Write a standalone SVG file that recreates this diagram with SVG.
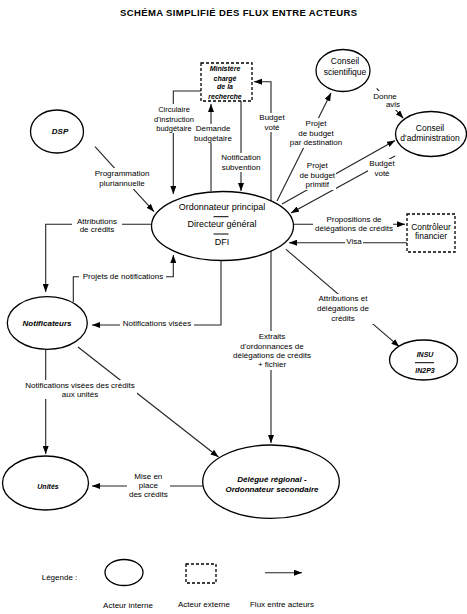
<svg xmlns="http://www.w3.org/2000/svg" width="467" height="614" viewBox="0 0 467 614">
<defs>
<marker id="ah" viewBox="0 0 8 6" refX="8" refY="3" markerWidth="8" markerHeight="6" markerUnits="userSpaceOnUse" orient="auto"><path d="M0,0 L8,3 L0,6 z" fill="#000"/></marker>
</defs>
<style>
text{font-family:"Liberation Sans",Arial,sans-serif;fill:#000}
.t{font-size:9.5px;font-weight:bold}
.lb{font-size:8px;text-anchor:middle}
.bg{fill:#fff;stroke:none}
.node{fill:#fff;stroke:#000;stroke-width:1.3}
.ext{fill:#fff;stroke:#000;stroke-width:1.3;stroke-dasharray:3,2}
.nm{font-size:8.5px;text-anchor:middle}
.it{font-size:8px;font-style:italic;font-weight:bold;text-anchor:middle}
.c{fill:none;stroke:#222;stroke-width:1.1}
.a{marker-end:url(#ah)}
.sep{stroke:#000;stroke-width:1}
</style>
<rect width="467" height="614" fill="#fff"/>
<text class="t" x="120" y="16" textLength="237" lengthAdjust="spacing">SCHÉMA SIMPLIFIÉ DES FLUX ENTRE ACTEURS</text>

<g id="connectors">
<path class="c a" d="M201,91 H173.3 V194"/>
<path class="c a" d="M211,191 V104"/>
<path class="c a" d="M241,101 V191"/>
<path class="c a" d="M271,201 V81.7 H254"/>
<path class="c a" d="M95,146.7 L154,211.7"/>
<path class="c a" d="M152,224.3 H45.7 V292"/>
<path class="c a" d="M73.3,302 V276.7 H173.3 V255"/>
<path class="c a" d="M221,260 V325 H92"/>
<path class="c a" d="M45.7,350 V454"/>
<path class="c a" d="M78,347 L218.5,457"/>
<path class="c a" d="M202.7,486 H92"/>
<path class="c a" d="M271,250 V443"/>
<path class="c a" d="M277,201 L331,93"/>
<path class="c a" d="M282,204 L395,140.5"/>
<path class="c a" d="M395,156 L291,213"/>
<path class="c a" d="M376.7,88.3 L403.3,118.3"/>
<path class="c a" d="M292,224.3 H405"/>
<path class="c a" d="M407,242.7 H289"/>
<path class="c a" d="M286,249.3 L399.3,346.7"/>
</g>

<g id="label-backgrounds">
<rect class="bg" x="153" y="104" width="40" height="29"/>
<rect class="bg" x="194" y="124" width="38" height="19"/>
<rect class="bg" x="221" y="153" width="41" height="19"/>
<rect class="bg" x="260" y="113" width="24" height="19"/>
<rect class="bg" x="96" y="168" width="52" height="21"/>
<rect class="bg" x="72" y="216" width="50" height="19"/>
<rect class="bg" x="79" y="271" width="87" height="10"/>
<rect class="bg" x="120" y="319" width="74" height="10"/>
<rect class="bg" x="24" y="380" width="113" height="19"/>
<rect class="bg" x="127" y="471" width="43" height="28"/>
<rect class="bg" x="230" y="331" width="84" height="39"/>
<rect class="bg" x="292" y="118" width="49" height="30"/>
<rect class="bg" x="300" y="160" width="36" height="30"/>
<rect class="bg" x="368" y="159" width="28" height="19"/>
<rect class="bg" x="374" y="91" width="30" height="19"/>
<rect class="bg" x="313" y="215" width="80" height="18"/>
<rect class="bg" x="345" y="237" width="18" height="9"/>
<rect class="bg" x="312" y="294" width="62" height="30"/>
</g>

<g id="labels">
<text class="lb" style="font-size:7.5px" x="174" y="112">Circulaire</text>
<text class="lb" style="font-size:7.5px" x="174" y="121.5">d'instruction</text>
<text class="lb" style="font-size:7.5px" x="174" y="131">budgétaire</text>

<text class="lb" x="213" y="131">Demande</text>
<text class="lb" x="213" y="140.5">budgétaire</text>

<text class="lb" x="241" y="160">Notification</text>
<text class="lb" x="241" y="170">subvention</text>

<text class="lb" x="272" y="120">Budget</text>
<text class="lb" x="272" y="129.5">voté</text>

<text class="lb" x="122" y="175.5">Programmation</text>
<text class="lb" x="122" y="185.5">pluriannuelle</text>

<text class="lb" x="97" y="223.5">Attributions</text>
<text class="lb" x="97" y="232">de crédits</text>

<text class="lb" x="123" y="278.5">Projets de notifications</text>

<text class="lb" x="157" y="326">Notifications visées</text>

<text class="lb" x="80" y="387.7">Notifications visées des crédits</text>
<text class="lb" x="80" y="396.7">aux unités</text>

<text class="lb" x="148.3" y="478.8">Mise en</text>
<text class="lb" x="148.3" y="487.8">place</text>
<text class="lb" x="148.3" y="496.8">des crédits</text>

<text class="lb" x="272" y="338.8">Extraits</text>
<text class="lb" x="272" y="348.5">d'ordonnances de</text>
<text class="lb" x="272" y="357.8">délégations de crédits</text>
<text class="lb" x="272" y="366.8">+ fichier</text>

<text class="lb" x="316" y="126">Projet</text>
<text class="lb" x="316" y="135.5">de budget</text>
<text class="lb" x="316" y="145">par destination</text>

<text class="lb" x="317.3" y="167.8">Projet</text>
<text class="lb" x="317.3" y="177.5">de budget</text>
<text class="lb" x="317.3" y="186.8">primitif</text>

<text class="lb" x="382" y="166">Budget</text>
<text class="lb" x="382" y="175.5">voté</text>

<text class="lb" x="385" y="98.5">Donne</text>
<text class="lb" x="393" y="107">avis</text>

<text class="lb" x="354" y="222">Propositions de</text>
<text class="lb" x="354" y="231">délégations de crédits</text>

<text class="lb" x="354" y="243.5">Visa</text>

<text class="lb" x="343" y="301">Attributions et</text>
<text class="lb" x="343" y="311">délégations de</text>
<text class="lb" x="343" y="321">crédits</text>
</g>

<g id="n-ministere">
<rect class="ext" x="201" y="63" width="51" height="38"/>
<text class="it" style="font-size:7px" x="225" y="71">Ministère</text>
<text class="it" style="font-size:7px" x="225" y="80.5">chargé</text>
<text class="it" style="font-size:7px" x="225" y="89.3">de la</text>
<text class="it" style="font-size:7px" x="225" y="98.5">recherche</text>
</g>

<g id="n-ordonnateur">
<ellipse class="node" cx="222.5" cy="226" rx="71" ry="34.5"/>
<text class="nm" style="font-size:9px" x="222" y="210">Ordonnateur principal</text>
<line class="sep" x1="213.5" y1="216.7" x2="228.5" y2="216.7"/>
<text class="nm" style="font-size:9px" x="222" y="227">Directeur général</text>
<line class="sep" x1="213.5" y1="234" x2="228.5" y2="234"/>
<text class="nm" style="font-size:9px" x="222" y="244.5">DFI</text>
</g>

<g id="n-dsp">
<ellipse class="node" cx="57" cy="131.5" rx="26.5" ry="21.5"/>
<text class="it" x="60" y="134">DSP</text>
</g>

<g id="n-conseil-scientifique">
<ellipse class="node" cx="343" cy="70.5" rx="27" ry="21"/>
<text class="nm" x="345" y="64">Conseil</text>
<text class="nm" x="345" y="75">scientifique</text>
</g>

<g id="n-conseil-administration">
<ellipse class="node" cx="431" cy="134" rx="35.5" ry="22.5"/>
<text class="nm" x="430" y="131">Conseil</text>
<text class="nm" x="430" y="141">d'administration</text>
</g>

<g id="n-controleur">
<rect class="ext" x="407" y="214" width="48" height="38"/>
<text class="nm" x="431" y="229.5">Contrôleur</text>
<text class="nm" x="431" y="239">financier</text>
</g>

<g id="n-notificateurs">
<ellipse class="node" cx="47.3" cy="323" rx="40" ry="26.3"/>
<text class="it" x="47" y="325.5">Notificateurs</text>
</g>

<g id="n-insu">
<ellipse class="node" cx="423.5" cy="360" rx="34" ry="20"/>
<text class="it" style="font-size:7px" x="425" y="357">INSU</text>
<line class="sep" x1="415" y1="362.7" x2="434" y2="362.7"/>
<text class="it" style="font-size:7px" x="425" y="373">IN2P3</text>
</g>

<g id="n-unites">
<ellipse class="node" cx="45.5" cy="483" rx="43" ry="27"/>
<text class="it" style="font-size:7px" x="48" y="488.5">Unités</text>
</g>

<g id="n-delegue">
<ellipse class="node" cx="271" cy="481.7" rx="68.3" ry="36.7"/>
<text class="it" x="272" y="482">Délégué régional -</text>
<text class="it" x="272" y="491.5">Ordonnateur secondaire</text>
</g>

<g id="legend">
<text style="font-size:8px" x="41.7" y="579.5">Légende :</text>
<ellipse class="node" cx="124" cy="572.5" rx="19" ry="13"/>
<rect class="ext" x="186" y="564" width="30" height="19"/>
<path class="c a" d="M265,572.7 H302"/>
<text class="lb" x="128" y="607.5">Acteur interne</text>
<text class="lb" x="204" y="607">Acteur externe</text>
<text class="lb" x="282" y="607">Flux entre acteurs</text>
</g>
</svg>
